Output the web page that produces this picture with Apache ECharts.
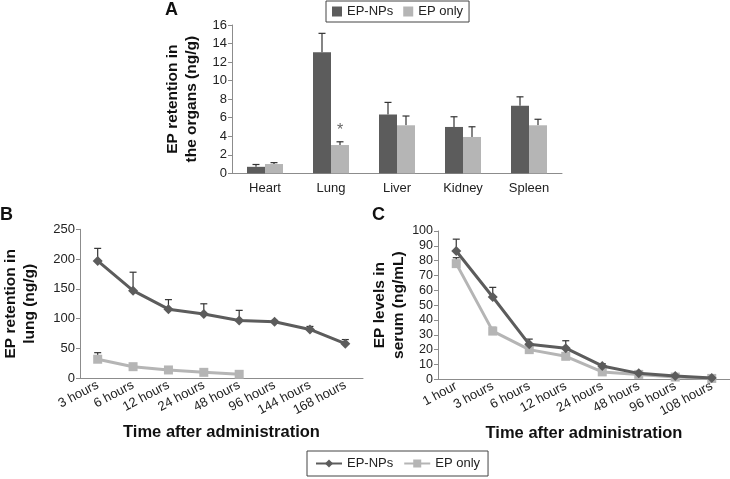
<!DOCTYPE html>
<html>
<head>
<meta charset="utf-8">
<script src="https://cdn.jsdelivr.net/npm/echarts@6/dist/echarts.min.js"></script>
<style>html,body{margin:0;padding:0;background:#fff;}#c{width:730px;height:479px;}</style>
</head>
<body>
<div id="c"></div>
<script>
// ---- Data ----
const organs = ['Heart', 'Lung', 'Liver', 'Kidney', 'Spleen'];
const organNP = [0.7, 13.05, 6.35, 5.0, 7.3];
const organNPErr = [0.25, 2.05, 1.3, 1.1, 0.95];
const organEP = [1.0, 3.05, 5.18, 3.92, 5.18];
const organEPErr = [0.15, 0.35, 1.0, 1.1, 0.65];
const organEPMarks = ['', '*', '', '', ''];

const lungTimes = ['3 hours', '6 hours', '12 hours', '24 hours', '48 hours', '96 hours', '144 hours', '168 hours'];
const lungNP = [197, 147, 116, 108, 97, 95, 82, 58];
const lungNPErr = [21, 31, 16, 17, 17, 2, 5, 7];
const lungEP = [32, 19.5, 14, 10, 6.7, null, null, null];
const lungEPErr = [11, 0, 0, 0, 0, null, null, null];

const serumTimes = ['1 hour', '3 hours', '6 hours', '12 hours', '24 hours', '48 hours', '96 hours', '108 hours'];
const serumNP = [86.5, 55.5, 23.6, 21, 9, 4, 2.3, 0.8];
const serumNPErr = [8, 6.5, 3.5, 5, 1.5, 1, 1, 0.5];
const serumEP = [78, 32.5, 20, 15.5, 5, 3.3, 1.5, 0.6];
const serumEPErr = [4, 2.5, 1, 1, 0.5, 0.5, 0.5, 0.3];

// ---- Styles ----
const FONT = 'Liberation Sans, Arial, sans-serif';
const DARK = '#5c5c5c';
const LIGHT = '#b5b5b5';
const ERR = '#333';
const AXIS = '#8c8c8c';

function errSeries(xi, yi, vals, errs, offset, marks) {
  const data = [];
  vals.forEach((v, i) => { if (v != null) data.push([i, v, errs[i] || 0, (marks && marks[i]) || '']); });
  return {
    type: 'custom', xAxisIndex: xi, yAxisIndex: yi, silent: true, z: 1,
    encode: { x: 0, y: 1 },
    data: data,
    renderItem: function (params, api) {
      const x = api.value(0), v = api.value(1), e = api.value(2);
      const mark = data[params.dataIndex][3];
      const p0 = api.coord([x, v]);
      const p1 = api.coord([x, v + e]);
      const cx = p0[0] + offset;
      const ch = [];
      if (e > 0) {
        ch.push({ type: 'line', shape: { x1: cx, y1: p0[1], x2: cx, y2: p1[1] }, style: { stroke: ERR, lineWidth: 1.2 } });
        ch.push({ type: 'line', shape: { x1: cx - 3.5, y1: p1[1], x2: cx + 3.5, y2: p1[1] }, style: { stroke: ERR, lineWidth: 1.2 } });
      }
      if (mark) {
        ch.push({ type: 'text', x: cx, y: p1[1] - 3, style: { text: mark, fill: '#666', font: '16px ' + FONT, align: 'center', verticalAlign: 'bottom' } });
      }
      return { type: 'group', children: ch };
    }
  };
}

function catAxis(gi, cats, rotate) {
  return {
    type: 'category', gridIndex: gi, data: cats, boundaryGap: true,
    axisLine: { lineStyle: { color: AXIS } },
    axisTick: { lineStyle: { color: AXIS }, length: 4 },
    axisLabel: { color: '#222', fontSize: 13, fontFamily: FONT, rotate: rotate || 0, margin: rotate ? 6 : 9, interval: 0 }
  };
}
function valAxis(gi, max, interval, name, gap) {
  return {
    type: 'value', gridIndex: gi, min: 0, max: max, interval: interval,
    splitLine: { show: false },
    axisLine: { show: true, lineStyle: { color: AXIS } },
    axisTick: { show: true, lineStyle: { color: AXIS }, length: 4 },
    axisLabel: { color: '#222', fontSize: 13, fontFamily: FONT, margin: 5 },
    name: name, nameLocation: 'middle', nameGap: gap,
    nameTextStyle: { fontWeight: 'bold', fontSize: 15.5, fontFamily: FONT, color: '#111', lineHeight: 19 }
  };
}
const xName = {
  name: 'Time after administration', nameLocation: 'middle', nameGap: 46,
  nameTextStyle: { fontWeight: 'bold', fontSize: 16.5, fontFamily: FONT, color: '#111' }
};

const lineNP = (name, xi, yi, data) => ({
  name: name, type: 'line', xAxisIndex: xi, yAxisIndex: yi, data: data, z: 3,
  symbol: 'diamond', symbolSize: 10, itemStyle: { color: DARK }, lineStyle: { color: DARK, width: 3 }
});
const lineEP = (name, xi, yi, data) => ({
  name: name, type: 'line', xAxisIndex: xi, yAxisIndex: yi, data: data, z: 2,
  symbol: 'rect', symbolSize: 9, itemStyle: { color: LIGHT }, lineStyle: { color: LIGHT, width: 3 }
});

const letter = (t, l, tp) => ({ text: t, left: l, top: tp, padding: 0, textStyle: { fontSize: 18, fontWeight: 'bold', color: '#111', fontFamily: FONT } });

const chart = echarts.init(document.getElementById('c'), null, { renderer: 'canvas' });
chart.setOption({
  animation: false,
  textStyle: { fontFamily: FONT },
  title: [ letter('A', 165, 1), letter('B', 0, 206), letter('C', 372, 206) ],
  legend: [
    {
      data: ['EP-NPs', 'EP only'], left: 326, top: 1, icon: 'rect', itemWidth: 10, itemHeight: 10, itemGap: 10,
      borderColor: '#444', borderWidth: 1, padding: [4, 6], textStyle: { fontSize: 13, color: '#222', fontFamily: FONT }
    },
    {
      data: ['EP-NPs (line)', 'EP only (line)'], left: 307, top: 451, itemWidth: 26, itemHeight: 10, itemGap: 10,
      borderColor: '#444', borderWidth: 1, padding: [6, 8],
      formatter: function (n) { return n.replace(' (line)', ''); },
      textStyle: { fontSize: 13, color: '#222', fontFamily: FONT }
    }
  ],
  grid: [
    { left: 232, width: 330, top: 25, height: 148.3 },
    { left: 72, width: 291, top: 229.3, height: 149 },
    { left: 438, width: 292, top: 231, height: 148.3 }
  ],
  xAxis: [
    catAxis(0, organs, 0),
    Object.assign(catAxis(1, lungTimes, 28), xName),
    Object.assign(catAxis(2, serumTimes, 28), xName)
  ],
  yAxis: [
    valAxis(0, 16, 2, 'EP retention in\nthe organs (ng/g)', 31),
    valAxis(1, 250, 50, 'EP retention in\nlung (ng/g)', 41),
    Object.assign(valAxis(2, 100, 10, 'EP levels in\nserum (ng/mL)', 29), { axisLabel: { color: '#222', fontSize: 12.5, fontFamily: FONT, margin: 5 } })
  ],
  series: [
    { name: 'EP-NPs', type: 'bar', xAxisIndex: 0, yAxisIndex: 0, data: organNP, barWidth: 18, barGap: '0%', itemStyle: { color: DARK } },
    { name: 'EP only', type: 'bar', xAxisIndex: 0, yAxisIndex: 0, data: organEP, barWidth: 18, barGap: '0%', itemStyle: { color: LIGHT } },
    errSeries(0, 0, organNP, organNPErr, -9),
    errSeries(0, 0, organEP, organEPErr, 9, organEPMarks),

    lineNP('EP-NPs (line)', 1, 1, lungNP),
    lineEP('EP only (line)', 1, 1, lungEP),
    errSeries(1, 1, lungNP, lungNPErr, 0),
    errSeries(1, 1, lungEP, lungEPErr, 0),

    lineNP('EP-NPs (line)', 2, 2, serumNP),
    lineEP('EP only (line)', 2, 2, serumEP),
    errSeries(2, 2, serumNP, serumNPErr, 0),
    errSeries(2, 2, serumEP, serumEPErr, 0)
  ]
});
</script>
</body>
</html>
